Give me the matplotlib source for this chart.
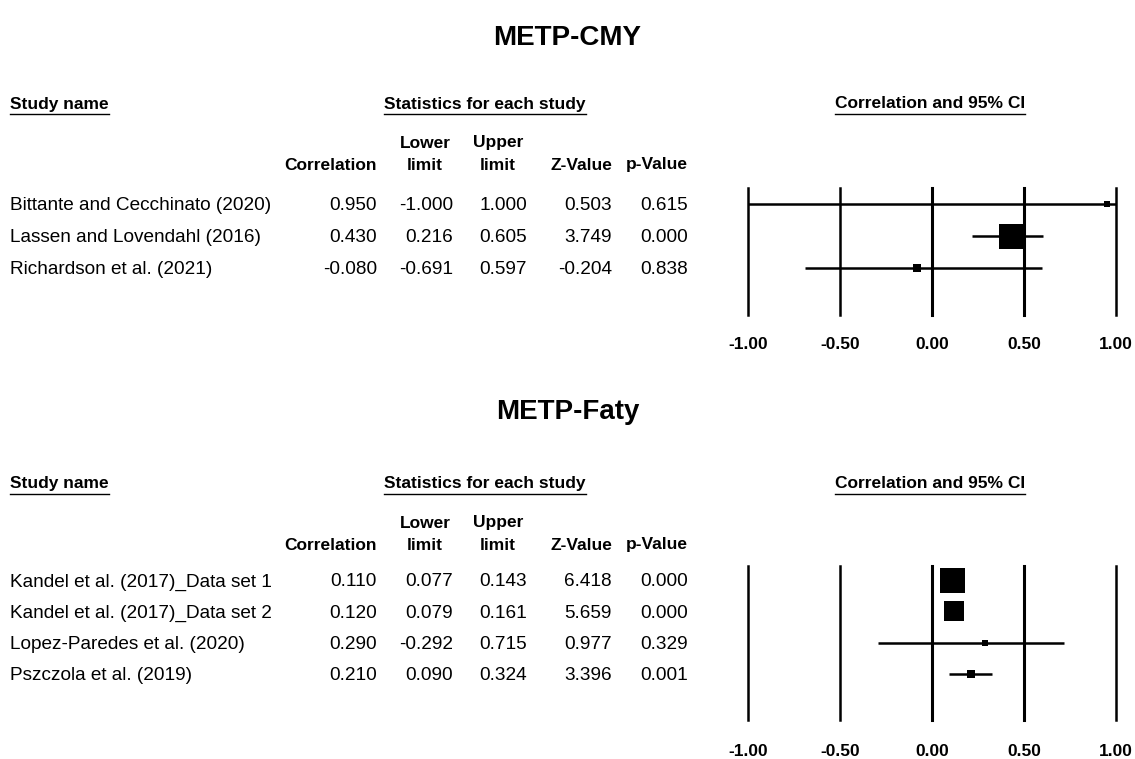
import numpy as np
import matplotlib
matplotlib.use("Agg")
import matplotlib.pyplot as plt
import matplotlib.transforms as mtransforms
from matplotlib.lines import Line2D

plt.rcParams['font.family'] = ['Liberation Sans', 'DejaVu Sans']

# ---- data ----
cmy_studies = ["Bittante and Cecchinato (2020)",
               "Lassen and Lovendahl (2016)",
               "Richardson et al. (2021)"]
cmy_corr = [0.950, 0.430, -0.080]
cmy_lower = [-1.000, 0.216, -0.691]
cmy_upper = [1.000, 0.605, 0.597]
cmy_z = [0.503, 3.749, -0.204]
cmy_p = [0.615, 0.000, 0.838]
cmy_weight = [2.1, 89.5, 8.4]      # relative weight (box area), estimated

faty_studies = ["Kandel et al. (2017)_Data set 1",
                "Kandel et al. (2017)_Data set 2",
                "Lopez-Paredes et al. (2020)",
                "Pszczola et al. (2019)"]
faty_corr = [0.110, 0.120, 0.290, 0.210]
faty_lower = [0.077, 0.079, -0.292, 0.090]
faty_upper = [0.143, 0.161, 0.715, 0.324]
faty_z = [6.418, 5.659, 0.977, 3.396]
faty_p = [0.000, 0.000, 0.329, 0.001]
faty_weight = [55.9, 37.5, 2.2, 4.4]

xticks = [-1.0, -0.5, 0.0, 0.5, 1.0]

W, H = 1135, 759
fig = plt.figure(figsize=(W / 100, H / 100), dpi=100)
fig.patch.set_facecolor("white")


def fx(px):
    return px / W


def fy(py):
    return 1 - py / H


def underline(t):
    fig.canvas.draw()
    bb = t.get_window_extent().transformed(fig.transFigure.inverted())
    fig.add_artist(Line2D([bb.x0, bb.x1], [bb.y0 - 0.003, bb.y0 - 0.003],
                          transform=fig.transFigure, color="black", lw=1.0))


def panel(title, title_y, head_y, names, corr, lo, hi, z, p, weight,
          ax_top, ax_bot, row0, step, label_gap):
    n = len(names)
    fig.text(0.5, fy(title_y), title, ha="center", va="center",
             fontsize=20, fontweight="bold")

    t = fig.text(fx(10), fy(head_y), "Study name", ha="left", va="center",
                 fontsize=12.5, fontweight="bold")
    underline(t)
    t = fig.text(fx(485), fy(head_y), "Statistics for each study",
                 ha="center", va="center", fontsize=12.5, fontweight="bold")
    underline(t)
    t = fig.text(fx(930), fy(head_y), "Correlation and 95% CI",
                 ha="center", va="center", fontsize=12.5, fontweight="bold")
    underline(t)

    y1 = head_y + 39
    y2 = head_y + 61
    hk = dict(va="center", fontsize=12.5, fontweight="bold")
    fig.text(fx(377), fy(y2), "Correlation", ha="right", **hk)
    fig.text(fx(425), fy(y1), "Lower", ha="center", **hk)
    fig.text(fx(425), fy(y2), "limit", ha="center", **hk)
    fig.text(fx(498), fy(y1), "Upper", ha="center", **hk)
    fig.text(fx(498), fy(y2), "limit", ha="center", **hk)
    fig.text(fx(612), fy(y2), "Z-Value", ha="right", **hk)
    fig.text(fx(688), fy(y2), "p-Value", ha="right", **hk)

    # forest axes: x -1..1 spans px 748..1116
    ax = fig.add_axes([fx(748), fy(ax_bot), fx(1116) - fx(748),
                       (ax_bot - ax_top) / H])
    top_idx = (ax_top - row0) / step
    bot_idx = (ax_bot - row0) / step
    ax.set_xlim(-1, 1)
    ax.set_ylim(bot_idx, top_idx)
    for s in ax.spines.values():
        s.set_visible(False)
    ax.set_yticks([])
    ax.set_xticks(xticks)
    ax.set_xticklabels(["%.2f" % v for v in xticks], fontsize=12.5,
                       fontweight="bold")
    ax.tick_params(axis="x", length=0, pad=label_gap)
    for v in xticks:
        ax.axvline(v, color="black", lw=2.2 if v in (0.0, 0.5) else 1.8,
                   clip_on=False)

    rows = np.arange(n)
    ax.hlines(rows, lo, hi, color="black", lw=1.8, clip_on=False)
    wmax = max(weight)
    for i in range(n):
        side_px = 25 * np.sqrt(weight[i] / wmax)
        ax.plot(corr[i], i, marker="s", color="black", clip_on=False,
                markersize=max(side_px, 5.5) * 0.72, markeredgewidth=0)

    tr = mtransforms.blended_transform_factory(fig.transFigure, ax.transData)
    dk = dict(transform=tr, va="center_baseline", fontsize=13.7,
              clip_on=False)
    for i in range(n):
        fig.text(fx(10), i, names[i], ha="left", **dk)
        fig.text(fx(377), i, "%.3f" % corr[i], ha="right", **dk)
        fig.text(fx(453), i, "%.3f" % lo[i], ha="right", **dk)
        fig.text(fx(527), i, "%.3f" % hi[i], ha="right", **dk)
        fig.text(fx(612), i, "%.3f" % z[i], ha="right", **dk)
        fig.text(fx(688), i, "%.3f" % p[i], ha="right", **dk)


panel("METP-CMY", 38, 104, cmy_studies, cmy_corr, cmy_lower, cmy_upper,
      cmy_z, cmy_p, cmy_weight, 188, 315, 204, 32, 16)
panel("METP-Faty", 412, 484, faty_studies, faty_corr, faty_lower, faty_upper,
      faty_z, faty_p, faty_weight, 566, 720, 580, 31.3, 17.5)

fig.savefig("out.png", dpi=100, facecolor="white")
